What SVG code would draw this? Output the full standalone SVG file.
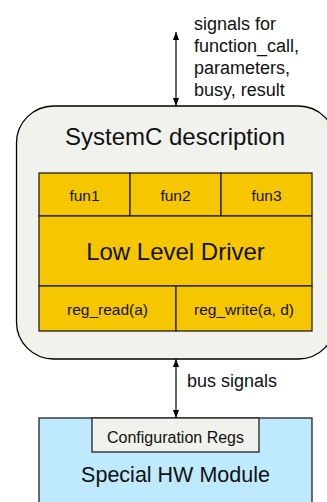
<svg xmlns="http://www.w3.org/2000/svg" width="327" height="502" viewBox="0 0 327 502">
<defs>
<marker id="ah" viewBox="0 0 10 10" refX="10" refY="5" markerWidth="9" markerHeight="8" markerUnits="userSpaceOnUse" orient="auto-start-reverse">
<path d="M0,1.2 L10,5 L0,8.8 Z" fill="#000"/>
</marker>
<style>
text{font-family:"Liberation Sans",Arial,sans-serif;fill:#111}
.y{fill:#f6c700;stroke:#222;stroke-width:1.3}
.big{font-size:24px;text-anchor:middle}
.sm{font-size:15.5px;text-anchor:middle}
.lbl{font-size:18px}
.conn{stroke:#000;stroke-width:1.2;fill:none}
</style>
</defs>
<g id="systemc">
<rect x="16.5" y="106" width="319" height="253" rx="37" ry="37" fill="#f1f1ed" stroke="#000" stroke-width="1.3"/>
<text class="big" x="175" y="145">SystemC description</text>
</g>
<g id="fun1"><rect class="y" x="39" y="173" width="91" height="43"/><text class="sm" x="84.5" y="201">fun1</text></g>
<g id="fun2"><rect class="y" x="130" y="173" width="91" height="43"/><text class="sm" x="175.5" y="201">fun2</text></g>
<g id="fun3"><rect class="y" x="221" y="173" width="91" height="43"/><text class="sm" x="266.5" y="201">fun3</text></g>
<g id="lld"><rect class="y" x="39" y="216" width="273" height="70"/><text class="big" x="175.5" y="260">Low Level Driver</text></g>
<g id="regread"><rect class="y" x="39" y="286" width="137" height="45"/><text class="sm" x="107.5" y="315">reg_read(a)</text></g>
<g id="regwrite"><rect class="y" x="176" y="286" width="136" height="45"/><text class="sm" x="244" y="315">reg_write(a, d)</text></g>
<g id="hw">
<rect x="39" y="418" width="273" height="100" fill="#bfe9fc" stroke="#222" stroke-width="1.3"/>
<text class="big" x="175.5" y="482" style="font-size:21.5px">Special HW Module</text>
</g>
<g id="config">
<rect x="92" y="418" width="167" height="34" fill="#f1f1ed" stroke="#222" stroke-width="1.3"/>
<text class="sm" x="175.5" y="443" style="font-size:16px">Configuration Regs</text>
</g>
<g id="connectors">
<line class="conn" x1="176" y1="32" x2="176" y2="106" marker-start="url(#ah)" marker-end="url(#ah)"/>
<line class="conn" x1="176" y1="359" x2="176" y2="418" marker-start="url(#ah)" marker-end="url(#ah)"/>
</g>
<g id="labels">
<text class="lbl" x="194" y="30">signals for</text>
<text class="lbl" x="194" y="52">function_call,</text>
<text class="lbl" x="194" y="74">parameters,</text>
<text class="lbl" x="194" y="96">busy, result</text>
<text class="lbl" x="187" y="387">bus signals</text>
</g>
</svg>
